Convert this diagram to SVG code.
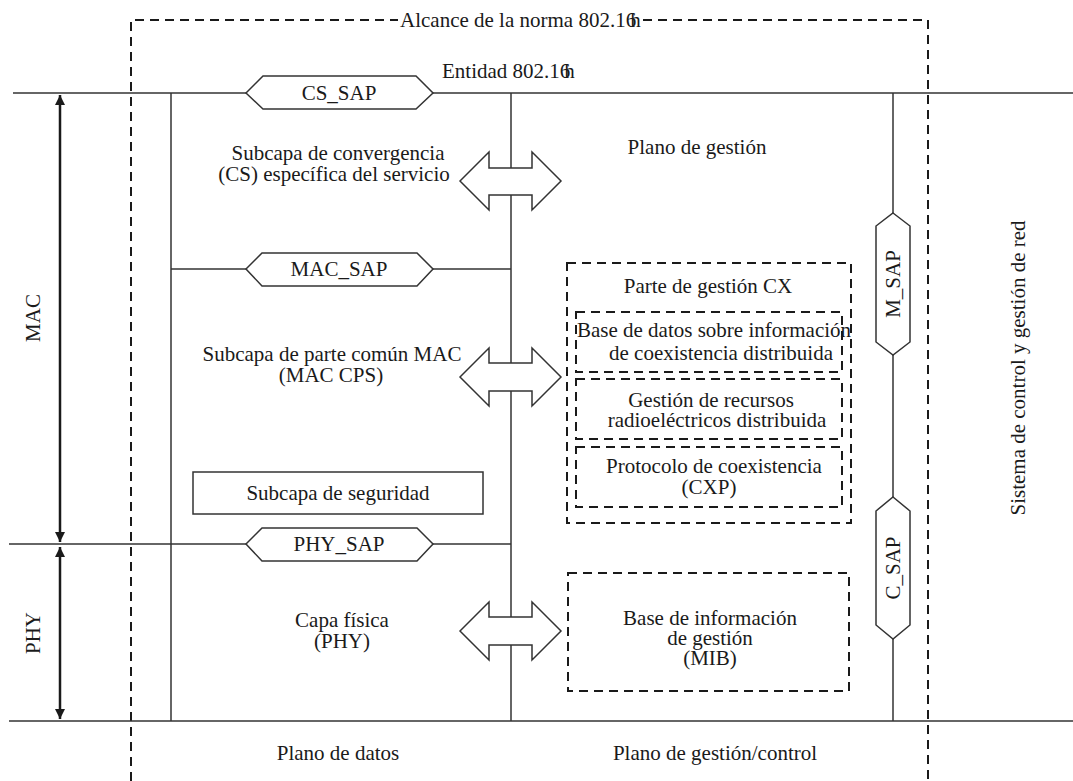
<svg xmlns="http://www.w3.org/2000/svg" width="1073" height="781" viewBox="0 0 1073 781">
  <style>
    .t { font-family: "Liberation Serif", "Times New Roman", serif; font-size: 21px; fill: #1a1a1a; }
    .m { text-anchor: middle; }
    .ln { stroke: #333; stroke-width: 1.5; fill: none; }
    .dash { stroke: #1a1a1a; stroke-width: 2; fill: none; stroke-dasharray: 9 6; }
    .sap { stroke: #333; stroke-width: 1.5; fill: #fff; }
    .dim { stroke: #1a1a1a; stroke-width: 2.5; fill: none; }
  </style>
  <defs>
    <marker id="ah" viewBox="0 0 10 10" refX="10" refY="5" markerWidth="4" markerHeight="4" orient="auto-start-reverse">
      <path d="M0,0 L10,5 L0,10 Z" fill="#1a1a1a"/>
    </marker>
  </defs>
  <rect width="1073" height="781" fill="#fff"/>

  <!-- scope boundary, broken around its title -->
  <g id="scope">
    <path class="dash" d="M131,781 V20 H398"/>
    <path class="dash" d="M643,20 H928 V781"/>
    <text class="t" x="400" y="27">Alcance de la norma 802.16<tspan dx="-6">h</tspan></text>
  </g>

  <!-- layer frame lines -->
  <g id="connectors">
    <line class="ln" x1="13" y1="93" x2="1073" y2="93"/>
    <line class="ln" x1="9" y1="544" x2="511" y2="544"/>
    <line class="ln" x1="9" y1="721" x2="1073" y2="721"/>
    <line class="ln" x1="171" y1="93" x2="171" y2="721"/>
    <line class="ln" x1="171" y1="269" x2="511" y2="269"/>
    <line class="ln" x1="511" y1="93" x2="511" y2="721"/>
    <line class="ln" x1="893" y1="93" x2="893" y2="721"/>
    <line class="dim" x1="60" y1="95" x2="60" y2="542" marker-start="url(#ah)" marker-end="url(#ah)"/>
    <line class="dim" x1="60" y1="547" x2="60" y2="719" marker-start="url(#ah)" marker-end="url(#ah)"/>
  </g>

  <text class="t" x="442" y="78">Entidad 802.16<tspan dx="-6">h</tspan></text>

  <g id="lbl-mac"><text class="t m" transform="translate(40,318) rotate(-90)">MAC</text></g>
  <g id="lbl-phy"><text class="t m" transform="translate(40,633) rotate(-90)">PHY</text></g>

  <!-- service access points -->
  <g id="cs-sap">
    <polygon class="sap" points="246,93 263,76 416,76 433,93 416,109 263,109"/>
    <text class="t m" x="339" y="100">CS_SAP</text>
  </g>
  <g id="mac-sap">
    <polygon class="sap" points="246,269 262,253 417,253 433,269 417,286 262,286"/>
    <text class="t m" x="339" y="276">MAC_SAP</text>
  </g>
  <g id="phy-sap">
    <polygon class="sap" points="246,544 262,528 417,528 433,544 417,561 262,561"/>
    <text class="t m" x="339" y="551">PHY_SAP</text>
  </g>
  <g id="m-sap">
    <polygon class="sap" points="893,213 910,226 910,342 893,355 876,342 876,226"/>
    <text class="t m" transform="translate(900,284) rotate(-90)">M_SAP</text>
  </g>
  <g id="c-sap">
    <polygon class="sap" points="893,497 910,511 910,625 893,639 876,625 876,511"/>
    <text class="t m" transform="translate(900,568) rotate(-90)">C_SAP</text>
  </g>

  <!-- data plane sublayers -->
  <g id="cs">
    <text class="t m" x="338" y="160">Subcapa de convergencia</text>
    <text class="t m" x="334" y="181">(CS) específica del servicio</text>
  </g>
  <g id="mac-cps">
    <text class="t m" x="332" y="361">Subcapa de parte común MAC</text>
    <text class="t m" x="331" y="382">(MAC CPS)</text>
  </g>
  <g id="security">
    <rect x="193" y="472" width="290" height="42" fill="#fff" stroke="#333" stroke-width="1.5"/>
    <text class="t m" x="338" y="500">Subcapa de seguridad</text>
  </g>
  <g id="phy">
    <text class="t m" x="342" y="627">Capa física</text>
    <text class="t m" x="342" y="648">(PHY)</text>
  </g>

  <!-- double arrows between planes -->
  <g id="arrow-cs">
    <polygon class="sap" points="460,181 489,152 489,168 532,168 532,152 561,181 532,210 532,195 489,195 489,210"/>
  </g>
  <g id="arrow-mac">
    <polygon class="sap" points="460,377 489,348 489,363 532,363 532,348 561,377 532,406 532,391 489,391 489,406"/>
  </g>
  <g id="arrow-phy">
    <polygon class="sap" points="460,631 489,602 489,617 532,617 532,602 561,631 532,660 532,645 489,645 489,660"/>
  </g>

  <!-- management plane -->
  <g id="mgmt-plane">
    <text class="t m" x="697" y="154">Plano de gestión</text>
  </g>
  <g id="cx-part">
    <rect class="dash" x="567" y="263" width="284" height="260"/>
    <text class="t m" x="708" y="293">Parte de gestión CX</text>
  </g>
  <g id="cx-db">
    <rect class="dash" x="576" y="312" width="266" height="60"/>
    <text class="t m" x="714" y="337">Base de datos sobre información</text>
    <text class="t m" x="721" y="360">de coexistencia distribuida</text>
  </g>
  <g id="cx-rrm">
    <rect class="dash" x="576" y="379" width="266" height="60"/>
    <text class="t m" x="711" y="407">Gestión de recursos</text>
    <text class="t m" x="717" y="427">radioeléctricos distribuida</text>
  </g>
  <g id="cxp">
    <rect class="dash" x="576" y="447" width="266" height="60"/>
    <text class="t m" x="714" y="473">Protocolo de coexistencia</text>
    <text class="t m" x="709" y="494">(CXP)</text>
  </g>
  <g id="mib">
    <rect class="dash" x="568" y="573" width="281" height="118"/>
    <text class="t m" x="710" y="625">Base de información</text>
    <text class="t m" x="710" y="645">de gestión</text>
    <text class="t m" x="710" y="665">(MIB)</text>
  </g>

  <g id="nms">
    <text class="t m" transform="translate(1025,368) rotate(-90)">Sistema de control y gestión de red</text>
  </g>

  <g id="plane-labels">
    <text class="t m" x="338" y="760">Plano de datos</text>
    <text class="t m" x="715" y="760">Plano de gestión/control</text>
  </g>
</svg>
